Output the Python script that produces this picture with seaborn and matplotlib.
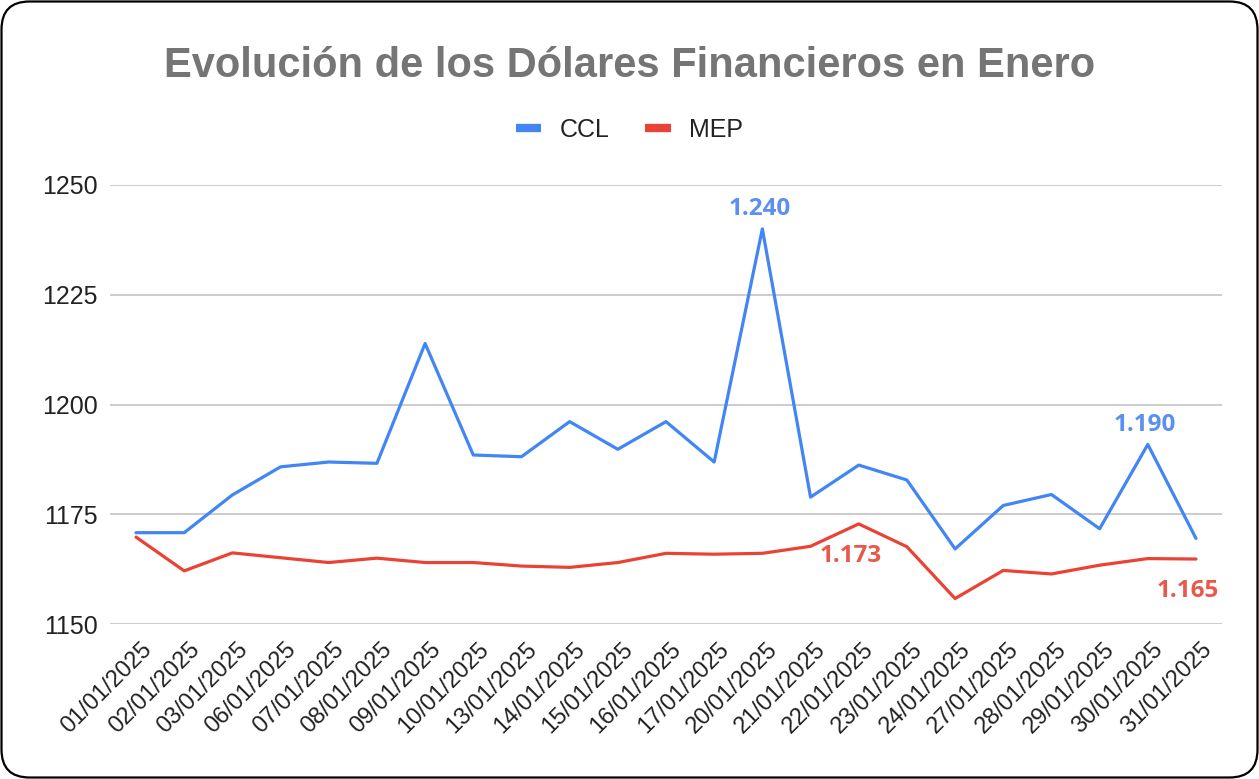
import matplotlib
matplotlib.use("Agg")
import matplotlib.pyplot as plt
import seaborn as sns
import pandas as pd
from matplotlib.patches import FancyBboxPatch
from matplotlib.transforms import IdentityTransform, ScaledTranslation
from matplotlib.lines import Line2D

dates = ["01/01/2025", "02/01/2025", "03/01/2025", "06/01/2025", "07/01/2025",
         "08/01/2025", "09/01/2025", "10/01/2025", "13/01/2025", "14/01/2025",
         "15/01/2025", "16/01/2025", "17/01/2025", "20/01/2025", "21/01/2025",
         "22/01/2025", "23/01/2025", "24/01/2025", "27/01/2025", "28/01/2025",
         "29/01/2025", "30/01/2025", "31/01/2025"]
ccl = [1170.8, 1170.8, 1179.4, 1185.8, 1186.9, 1186.6, 1213.9, 1188.5, 1188.1, 1196.1,
       1189.8, 1196.1, 1186.9, 1240.0, 1178.9, 1186.2, 1182.8, 1167.1, 1177.0, 1179.5,
       1171.7, 1190.9, 1169.5]
mep = [1169.8, 1162.1, 1166.2, 1165.1, 1164.0, 1165.0, 1164.0, 1164.0, 1163.2, 1162.9,
       1164.0, 1166.1, 1165.9, 1166.1, 1167.7, 1172.8, 1167.6, 1155.8, 1162.2, 1161.4,
       1163.4, 1164.9, 1164.8]
series_names = ["CCL", "MEP"]
yticks = [1150, 1175, 1200, 1225, 1250]
title = "Evolución de los Dólares Financieros en Enero"
# (series, index, label text, position) for data labels
labels = [("CCL", 13, "1.240", "above"), ("CCL", 21, "1.190", "above"),
          ("MEP", 15, "1.173", "below"), ("MEP", 22, "1.165", "below")]

colors = {"CCL": "#4285F4", "MEP": "#EA4335"}
label_colors = {"CCL": "#5B8FF0", "MEP": "#E8594B"}

df = pd.DataFrame({
    "x": list(range(len(dates))) * 2,
    "Fecha": dates * 2,
    "valor": ccl + mep,
    "serie": ["CCL"] * len(dates) + ["MEP"] * len(dates),
})

sns.set_theme(style="white")
plt.rcParams["font.family"] = ["Liberation Sans", "DejaVu Sans"]

fig = plt.figure(figsize=(12.59, 7.79), dpi=100)
ax = fig.add_axes([110 / 1259, 1 - 624 / 779, (1222 - 110) / 1259, (624 - 185) / 779])

sns.lineplot(data=df, x="x", y="valor", hue="serie", palette=colors, ax=ax,
             linewidth=2.3, legend=False, sort=False)

ax.set_xlim(-0.54, len(dates) - 1 + 0.54)
ax.set_ylim(1150, 1250)
ax.tick_params(axis="x", length=0, pad=16)
ax.tick_params(axis="y", length=0, pad=9)
ax.set_yticks(yticks)
ax.set_yticklabels([str(v) for v in yticks], fontsize=18, color="#222222")
ax.set_xticks(range(len(dates)))
ax.set_xticklabels(dates, rotation=45, ha="right", va="center",
                   rotation_mode="anchor", fontsize=17, color="#222222")
offset = ScaledTranslation(12 / 100, 0, fig.dpi_scale_trans)
for lab in ax.get_xticklabels():
    lab.set_transform(lab.get_transform() + offset)
ax.set_xlabel("")
ax.set_ylabel("")
ax.grid(axis="y", color="#cccccc", linewidth=1.4)
ax.grid(axis="x", visible=False)
ax.set_axisbelow(True)
for s in ax.spines.values():
    s.set_visible(False)

vals = {"CCL": ccl, "MEP": mep}
for name, i, txt, pos in labels:
    y = vals[name][i]
    if pos == "above":
        xy_off = (-2, 14)
    else:
        xy_off = (-6, -23)
    ax.annotate(txt, (i, y), xytext=xy_off, textcoords="offset points",
                ha="center", va="center", fontsize=17.5, fontweight="bold",
                color=label_colors[name], family=["Open Sans", "DejaVu Sans"])

fig.text(0.5, 1 - 66 / 779, title, ha="center", va="center", fontsize=30,
         fontweight="bold", color="#757575")

handles = [Line2D([0], [0], color=colors[n], linewidth=6, solid_capstyle="butt")
           for n in series_names]
fig.legend(handles, series_names, loc="center", bbox_to_anchor=(0.5, 1 - 130 / 779),
           ncol=2, frameon=False, fontsize=18, handlelength=1.03, handletextpad=0.75,
           columnspacing=1.4, labelcolor="#222222")

border = FancyBboxPatch((1.5, 1.5), 1256, 776, boxstyle="round,pad=0,rounding_size=28",
                        transform=IdentityTransform(), facecolor="none",
                        edgecolor="black", linewidth=1.6)
fig.patches.append(border)

fig.savefig("out.png", dpi=100, facecolor="white")
